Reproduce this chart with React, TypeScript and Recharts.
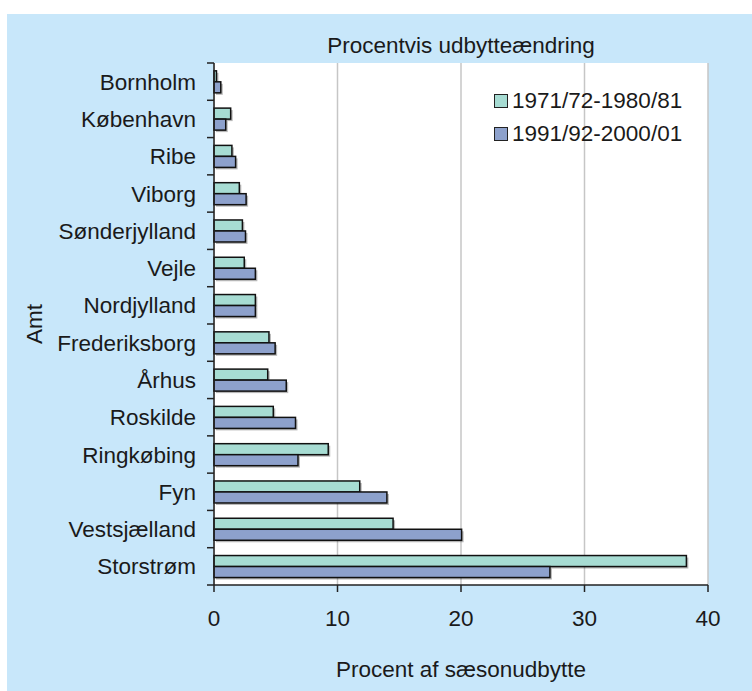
import { BarChart, Bar, XAxis, YAxis, CartesianGrid } from 'recharts';

const amter = [
  'Bornholm',
  'København',
  'Ribe',
  'Viborg',
  'Sønderjylland',
  'Vejle',
  'Nordjylland',
  'Frederiksborg',
  'Århus',
  'Roskilde',
  'Ringkøbing',
  'Fyn',
  'Vestsjælland',
  'Storstrøm',
];
const periode7080 = [0.2, 1.35, 1.45, 2.05, 2.3, 2.45, 3.35, 4.45, 4.35, 4.8, 9.25, 11.8, 14.5, 38.25];
const periode9000 = [0.55, 0.95, 1.75, 2.6, 2.55, 3.35, 3.35, 4.95, 5.85, 6.6, 6.8, 14.0, 20.05, 27.2];
const seriesNames = ['1971/72-1980/81', '1991/92-2000/01'];
const xTicks = [0, 10, 20, 30, 40];

const colors = ['#a7dcd3', '#8da1cc'];
const font = '"Liberation Sans", Arial, Helvetica, sans-serif';
const fontSize = 22.5;
const textColor = '#1a1a1a';

const data = amter.map((amt, i) => ({
  amt,
  p1: periode7080[i],
  p2: periode9000[i],
}));

// bar with a little drop shadow like the original
function ShadowBar(props: any) {
  const { x, y, width, height, fill } = props;
  if (!width || width <= 0) return null;
  return (
    <g>
      <rect x={x + 2} y={y + 2} width={width} height={height} fill="#000" opacity={0.28} />
      <rect x={x} y={y} width={width} height={height} fill={fill} stroke="#111" strokeWidth={1.5} />
    </g>
  );
}

// category label + tick marks on band edges (Excel style)
function AmtTick(props: any) {
  const { x, y, payload, index } = props;
  const half = typeof payload.offset === 'number' && payload.offset > 2 ? payload.offset : 522 / 14 / 2;
  return (
    <g>
      <line x1={x + 11} x2={x + 18} y1={y - half} y2={y - half} stroke="#222" strokeWidth={1.5} />
      {index === amter.length - 1 && (
        <line x1={x + 11} x2={x + 18} y1={y + half} y2={y + half} stroke="#222" strokeWidth={1.5} />
      )}
      <text x={x} y={y} dy="0.36em" textAnchor="end" fontSize={fontSize} fontFamily={font} fill={textColor}>
        {payload.value}
      </text>
    </g>
  );
}

function LegendBox() {
  return (
    <div
      style={{
        position: 'absolute',
        left: 487,
        top: 70,
        fontFamily: font,
        fontSize: fontSize,
        color: textColor,
        lineHeight: 1,
      }}
    >
      {seriesNames.map((name, i) => (
        <div key={name} style={{ display: 'flex', alignItems: 'center', height: 33.5 }}>
          <span
            style={{
              display: 'inline-block',
              width: 12,
              height: 12,
              background: colors[i],
              border: '1px solid #222',
              marginRight: 4,
            }}
          />
          <span>{name}</span>
        </div>
      ))}
    </div>
  );
}

export default function App() {
  return (
    <div style={{ position: 'absolute', left: 7, top: 14, width: 745, height: 677, background: '#c8e7fa' }}>
      <BarChart
        width={745}
        height={677}
        data={data}
        layout="vertical"
        margin={{ top: 49, right: 44, left: 0, bottom: 0 }}
        barCategoryGap="21%"
        barGap={0}
      >
        <CartesianGrid horizontal={false} stroke="#c6c6c6" strokeWidth={1.5} fill="#ffffff" fillOpacity={1} />
        <XAxis
          type="number"
          domain={[0, 40]}
          ticks={xTicks}
          height={106}
          axisLine={{ stroke: '#222', strokeWidth: 1.5 }}
          tickLine={{ stroke: '#222', strokeWidth: 1.5 }}
          tickSize={7}
          tickMargin={18}
          tick={{ fontSize: fontSize, fontFamily: font, fill: textColor }}
        />
        <YAxis
          type="category"
          dataKey="amt"
          width={207}
          interval={0}
          axisLine={{ stroke: '#222', strokeWidth: 1.5 }}
          tickLine={false}
          tickSize={7}
          tickMargin={11}
          tick={<AmtTick />}
        />
        <Bar dataKey="p1" name={seriesNames[0]} fill={colors[0]} shape={<ShadowBar />} isAnimationActive={false} />
        <Bar dataKey="p2" name={seriesNames[1]} fill={colors[1]} shape={<ShadowBar />} isAnimationActive={false} />
        <text x={454} y={31} dy="0.36em" textAnchor="middle" fontSize={fontSize} fontFamily={font} fill={textColor}>
          Procentvis udbytteændring
        </text>
        <text
          x={26.5}
          y={310}
          dy="0.36em"
          textAnchor="middle"
          fontSize={fontSize}
          fontFamily={font}
          fill={textColor}
          transform="rotate(-90 26.5 310)"
        >
          Amt
        </text>
        <text x={454} y={655} dy="0.36em" textAnchor="middle" fontSize={fontSize} fontFamily={font} fill={textColor}>
          Procent af sæsonudbytte
        </text>
      </BarChart>
      <LegendBox />
    </div>
  );
}
